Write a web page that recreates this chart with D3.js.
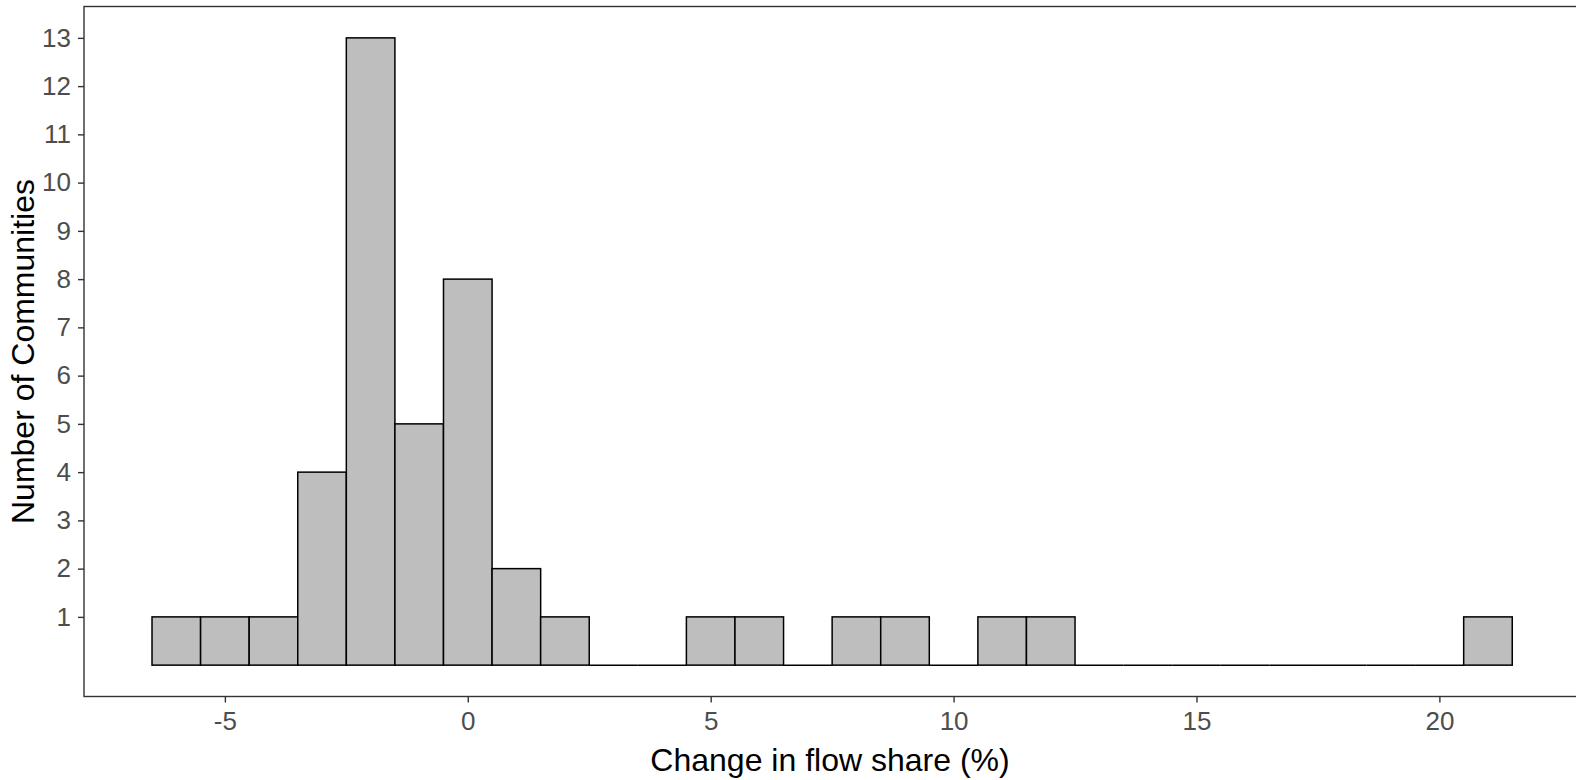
<!DOCTYPE html>
<html>
<head>
<meta charset="utf-8">
<script src="https://cdn.jsdelivr.net/npm/d3@7"></script>
<style>
  body { margin: 0; background: #fff; }
  #chart { width: 1576px; height: 780px; }
  text { font-family: "Liberation Sans", Arial, sans-serif; }
</style>
</head>
<body>
<div id="chart"></div>
<script>

// bin centres (binwidth 1) and counts
const binCenters = [-6,-5,-4,-3,-2,-1,0,1,2,3,4,5,6,7,8,9,10,11,12,13,14,15,16,17,18,19,20,21];
const binCounts  = [ 1, 1, 1, 4,13, 5,8,2,1,0,0,1,1,0,1,1, 0, 1, 1, 0, 0, 0, 0, 0, 0, 0, 0, 1];
const xTicks = [-5, 0, 5, 10, 15, 20];
const yTicks = [1,2,3,4,5,6,7,8,9,10,11,12,13];

const width = 1576, height = 780;
const binW = 1;

const svg = d3.select("#chart")
    .append("svg")
    .attr("width", width)
    .attr("height", height);

// ggplot style 5% expansion
const xmin = d3.min(binCenters) - binW/2, xmax = d3.max(binCenters) + binW/2;
const xpad = (xmax - xmin) * 0.05;
const ymax = d3.max(binCounts), ypad = ymax * 0.05;

const x = d3.scaleLinear()
    .domain([xmin - xpad, xmax + xpad])
    .range([84, 84 + 48.58 * (xmax - xmin + 2*xpad)]);

const y = d3.scaleLinear()
    .domain([-ypad, ymax + ypad])
    .range([696.5, 6.5]);

// panel border
svg.append("rect")
    .attr("x", x.range()[0])
    .attr("y", y.range()[1])
    .attr("width", x.range()[1] - x.range()[0])
    .attr("height", y.range()[0] - y.range()[1])
    .attr("fill", "none")
    .attr("stroke", "#333")
    .attr("stroke-width", 1.4);

const bins = binCenters.map((c, i) => ({c: c, n: binCounts[i]}));

// bars
svg.selectAll("rect.bar")
    .data(bins.filter(d => d.n > 0))
    .enter()
    .append("rect")
    .attr("class", "bar")
    .attr("x", d => x(d.c - binW/2))
    .attr("y", d => y(d.n))
    .attr("width", d => x(d.c + binW/2) - x(d.c - binW/2))
    .attr("height", d => y(0) - y(d.n))
    .attr("fill", "#bebebe")
    .attr("stroke", "#000")
    .attr("stroke-width", 1.5);

// empty bins show up as flat lines
svg.selectAll("line.empty")
    .data(bins.filter(d => d.n === 0))
    .enter()
    .append("line")
    .attr("class", "empty")
    .attr("x1", d => x(d.c - binW/2))
    .attr("x2", d => x(d.c + binW/2))
    .attr("y1", y(0))
    .attr("y2", y(0))
    .attr("stroke", "#000")
    .attr("stroke-width", 1.5);

// axes
const xAxis = svg.append("g")
    .attr("transform", `translate(0,${y.range()[0]})`)
    .call(d3.axisBottom(x).tickValues(xTicks).tickFormat(d => String(d)).tickSize(6).tickPadding(4));
const yAxis = svg.append("g")
    .attr("transform", `translate(${x.range()[0]},0)`)
    .call(d3.axisLeft(y).tickValues(yTicks).tickFormat(d => String(d)).tickSize(6).tickPadding(7));

[xAxis, yAxis].forEach(g => {
    g.select(".domain").remove();
    g.selectAll(".tick line").attr("stroke", "#333").attr("stroke-width", 1.4);
    g.selectAll(".tick text")
        .attr("fill", "#4d4d4d")
        .style("font-size", "26px")
        .style("font-family", "'Liberation Sans', Arial, sans-serif");
});
xAxis.selectAll(".tick text").attr("dy", "0.92em");

// axis titles
svg.append("text")
    .attr("x", (x.range()[0] + 1576) / 2)
    .attr("y", 771)
    .attr("text-anchor", "middle")
    .style("font-size", "32px")
    .attr("fill", "#000")
    .text("Change in flow share (%)");

svg.append("text")
    .attr("transform", `translate(34,${(y.range()[0] + y.range()[1]) / 2}) rotate(-90)`)
    .attr("text-anchor", "middle")
    .style("font-size", "32px")
    .attr("fill", "#000")
    .text("Number of Communities");

</script>
</body>
</html>
